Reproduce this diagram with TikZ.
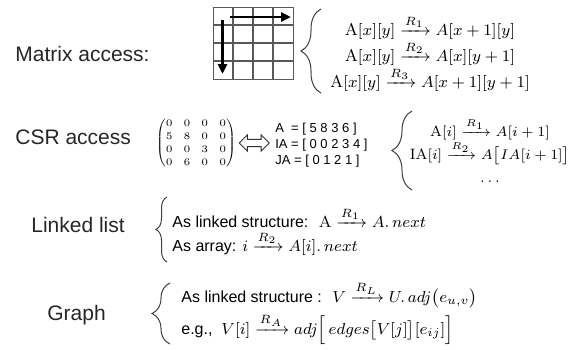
\documentclass[tikz,border=0pt]{standalone}
\usepackage{amsmath}
\usepackage{fontspec}
\setsansfont{Liberation Sans}
\usetikzlibrary{arrows.meta,positioning,decorations.pathreplacing,shapes.arrows}

\begin{document}
\begin{tikzpicture}[
    x=0.5pt, y=-0.5pt,
    lbl/.style={font=\sffamily\fontsize{10.5}{12}\selectfont, text=black!85, inner sep=0pt},
    rules/.style={align=center, inner sep=0pt, font=\fontsize{8.5}{13}\selectfont},
    items/.style={align=left, inner sep=0pt, font=\sffamily\fontsize{8}{12}\selectfont},
    arrays/.style={align=left, inner sep=0pt, font=\sffamily\fontsize{6.5}{8}\selectfont},
    brace/.style={decorate, decoration={brace, amplitude=#1}, draw=black!75, line width=0.5pt},
    brace/.default=10pt,
    gridline/.style={draw=black!65, line width=0.6pt},
    walk/.style={-{Triangle[length=5pt, width=4.5pt]}, line width=1.3pt},
    equiv/.style={double arrow, draw=black!80, line width=0.5pt, minimum height=15pt, minimum width=8pt, double arrow head extend=2.2pt, inner sep=1.6pt}
  ]
    \useasboundingbox (0,0) rectangle (569,349);
    \node[lbl, anchor=west] (matlbl) at (15,54) {Matrix access:};
    \node[gridline, minimum width=40pt, minimum height=36pt, inner sep=0pt, anchor=north west] (grid) at (213,7) {};
    \foreach \i in {1,2,3} {
      \draw[gridline] ([xshift=\i*10pt]grid.north west) -- ([xshift=\i*10pt]grid.south west);
      \draw[gridline] ([yshift=-\i*9pt]grid.north west) -- ([yshift=-\i*9pt]grid.north east);
    }
    \coordinate (rowstart) at (230,17);
    \coordinate (rowend) at (291,17);
    \coordinate (colstart) at (222.5,20);
    \coordinate (colend) at (222.5,74);
    \draw[walk] (rowstart) -- (rowend);
    \draw[walk] (colstart) -- (colend);
    \node[rules] (matrules) at (430,53) {$\mathrm{A}[x][y]\xrightarrow{R_1}A[x+1][y]$\\$\mathrm{A}[x][y]\xrightarrow{R_2}A[x][y+1]$\\$\mathrm{A}[x][y]\xrightarrow{R_3}A[x+1][y+1]$};
    \draw[brace] (321,93) -- (321,9);

    \node[lbl, anchor=west] (csrlbl) at (15,137) {CSR access};
    \node[inner sep=0pt, font=\fontsize{5}{6.5}\selectfont] (sparse) at (196,143) {$\setlength{\arraycolsep}{2.75pt}\begin{pmatrix}0&0&0&0\\5&8&0&0\\0&0&3&0\\0&6&0&0\end{pmatrix}$};
    \node[equiv, right=1pt of sparse] (swap) {};
    \node[arrays, right=2.5pt of swap, yshift=-1pt] (csrarrays) {A\ \ = [ 5 8 3 6 ]\\IA = [ 0 0 2 3 4 ]\\JA = [ 0 1 2 1 ]};
    \node[rules, font=\fontsize{7.5}{11.5}\selectfont] (csrrules) at (490,150) {$\mathrm{A}[i]\xrightarrow{R_1}A[i+1]$\\$\mathrm{IA}[i]\xrightarrow{R_2}A\big[IA[i+1]\big]$\\$\ldots$};
    \draw[brace] (412,190) -- (412,111);

    \node[lbl, anchor=west] (listlbl) at (31,225) {Linked list};
    \node[items, anchor=west] (listitems) at (172,231) {As linked structure: \ $\mathrm{A}\xrightarrow{R_1}A.\,next$\\As array: $i\xrightarrow{R_2}A[i].\,next$};
    \draw[brace=5.5pt] (167,262) -- (167,197);

    \node[lbl, anchor=west] (graphlbl) at (47,315) {Graph};
    \node[items, anchor=west, font=\sffamily\fontsize{8}{16}\selectfont] (graphitems) at (181,313) {As linked structure : \ $V\xrightarrow{R_L}U.\,adj\big(e_{u,v}\big)$\\e.g., \ $V[i]\xrightarrow{R_A}adj\Big[\,edges\big[V[j]\big][e_{ij}]\Big]$};
    \draw[brace=9pt] (170,344) -- (170,283);
  \end{tikzpicture}
\end{document}
